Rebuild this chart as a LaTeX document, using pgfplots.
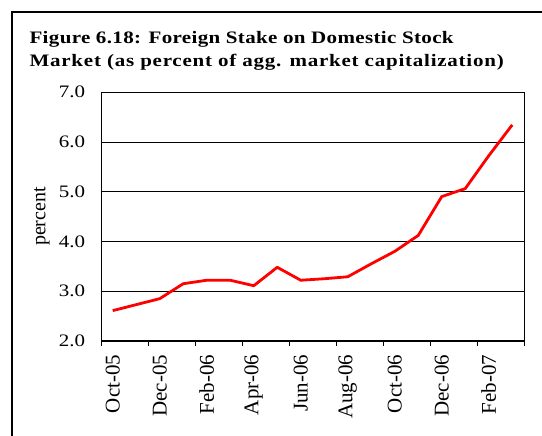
\documentclass[border=0pt]{standalone}
\usepackage{fontspec}
\setmainfont{Liberation Serif}
\newfontfamily\widetitle{Liberation Serif}[FakeStretch=1.2, LetterSpace=2]
\newfontfamily\widertitle{Liberation Serif}[FakeStretch=1.2, LetterSpace=4.4]
\newfontfamily\widenum{Liberation Serif}[FakeStretch=1.2]
\usepackage{pgfplots}
\pgfplotsset{compat=1.18}

\pgfplotstableread{
x  v
0  2.61
1  2.73
2  2.85
3  3.15
4  3.22
5  3.22
6  3.11
7  3.48
8  3.22
9  3.25
10 3.29
11 3.55
12 3.80
13 4.12
14 4.90
15 5.06
16 5.72
17 6.34
}\stake

\begin{document}
\begin{tikzpicture}
\useasboundingbox (0,0) rectangle (542pt,436pt);
\clip (0,0) rectangle (542pt,436pt);
% outer frame, cut off at right and bottom
\draw[line width=1.5pt] (12pt,-20pt) -- (12pt,424pt) -- (580pt,424pt);
\node[anchor=base west,font=\widetitle\bfseries\fontsize{17.5}{21}\selectfont] at (26pt,392pt)
  {Figure 6.18: Foreign Stake on Domestic Stock};
\node[anchor=base west,font=\widertitle\bfseries\fontsize{17.5}{21}\selectfont] at (26pt,369pt)
  {Market (as percent of agg. market capitalization)};
\begin{axis}[
  at={(101pt,95pt)}, anchor=south west,
  scale only axis, width=423pt, height=249pt,
  xmin=-0.5, xmax=17.5, ymin=2, ymax=7,
  xtick={0,2,...,16},
  xticklabels={Oct-05,Dec-05,Feb-06,Apr-06,Jun-06,Aug-06,Oct-06,Dec-06,Feb-07},
  minor xtick={-0.5,1.5,...,17.5},
  xtick pos=bottom, ytick pos=left,
  x tick label style={rotate=90,anchor=east,font=\fontsize{21}{21}\selectfont},
  xticklabel shift=6pt,
  major x tick style={draw=none},
  minor x tick style={black,thin},
  minor tick length=5pt,
  tick align=outside,
  ytick={2,3,...,7},
  y tick style={draw=none},
  ymajorgrids, grid style={black,thin},
  y tick label style={font=\widenum\fontsize{17.5}{17.5}\selectfont,
    /pgf/number format/fixed,/pgf/number format/fixed zerofill,
    /pgf/number format/precision=1},
  yticklabel shift=8pt,
  /pgf/number format/assume math mode=true,
  ylabel={percent},
  ylabel style={at={(axis description cs:-0.1395,0.5)},anchor=center,font=\fontsize{20}{20}\selectfont},
  axis line style={black,thin},
]
  \addplot[red, line width=2.8pt, line join=round] table[x=x,y=v] {\stake};
  \draw[line width=1.5pt] (rel axis cs:0,0) -- (rel axis cs:1,0);
\end{axis}
\end{tikzpicture}
\end{document}
